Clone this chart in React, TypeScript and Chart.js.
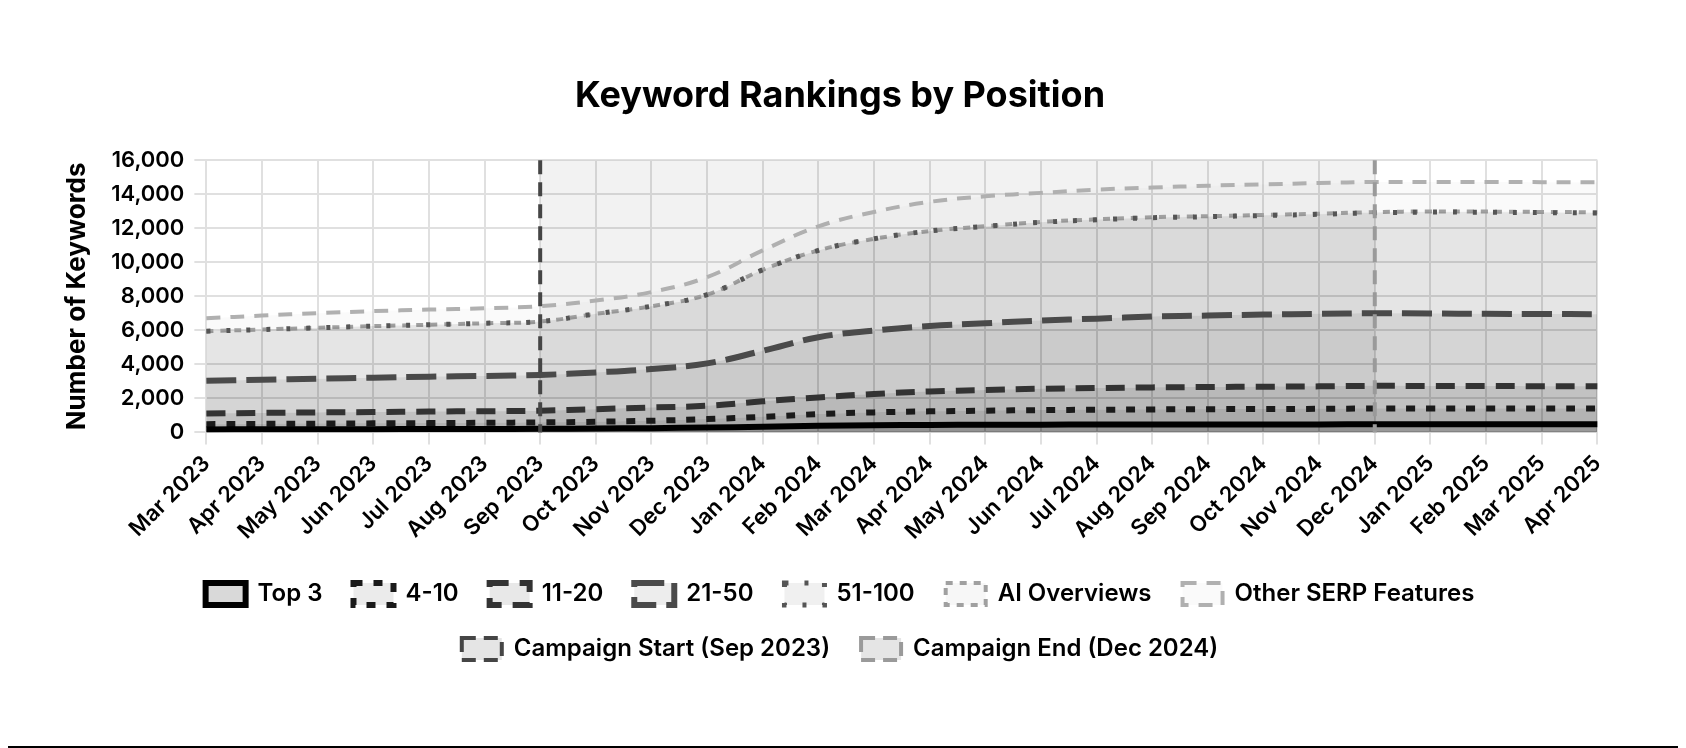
import React, { useRef, useEffect } from 'react';
import { Chart, registerables } from 'chart.js';

Chart.register(...registerables);

const months: string[] = [
    'Mar 2023', 'Apr 2023', 'May 2023', 'Jun 2023', 'Jul 2023', 'Aug 2023', 'Sep 2023', 'Oct 2023',
    'Nov 2023', 'Dec 2023', 'Jan 2024', 'Feb 2024', 'Mar 2024', 'Apr 2024', 'May 2024', 'Jun 2024',
    'Jul 2024', 'Aug 2024', 'Sep 2024', 'Oct 2024', 'Nov 2024', 'Dec 2024', 'Jan 2025', 'Feb 2025',
    'Mar 2025', 'Apr 2025',
];

const top3: number[] = [180, 185, 190, 195, 200, 205, 215, 235, 255, 290, 335, 390, 430, 445, 455, 460, 465, 470, 470, 475, 475, 480, 480, 480, 480, 480];
const pos4to10: number[] = [310, 320, 330, 340, 350, 365, 375, 395, 435, 495, 585, 690, 750, 795, 825, 855, 870, 885, 900, 900, 915, 930, 930, 930, 930, 930];
const pos11to20: number[] = [630, 645, 660, 665, 680, 680, 690, 740, 780, 785, 910, 980, 1080, 1170, 1210, 1255, 1275, 1295, 1300, 1315, 1320, 1330, 1320, 1320, 1310, 1310];
const pos21to50: number[] = [1920, 1950, 1980, 2020, 2050, 2070, 2100, 2160, 2260, 2490, 2970, 3540, 3730, 3850, 3930, 4010, 4080, 4160, 4200, 4240, 4260, 4270, 4260, 4240, 4240, 4230];
const pos51to100: number[] = [2910, 2950, 2990, 3030, 3050, 3100, 3140, 3440, 3690, 4040, 4760, 5100, 5390, 5580, 5690, 5770, 5810, 5810, 5810, 5820, 5850, 5900, 5960, 5970, 5960, 5950];
const aiOverviews: number[] = [0, 0, 0, 0, 0, 0, 0, 0, 0, 0, 0, 0, 0, 0, 10, 20, 25, 30, 30, 35, 35, 40, 40, 40, 40, 40];
const otherSerp: number[] = [760, 820, 860, 880, 890, 880, 900, 780, 830, 1030, 1140, 1410, 1580, 1710, 1760, 1710, 1745, 1740, 1790, 1795, 1805, 1770, 1730, 1740, 1750, 1760];

const campaignStart = 'Sep 2023';
const campaignEnd = 'Dec 2024';

// shaded campaign window plus the two vertical marker lines
const campaignPlugin = {
    id: 'campaign',
    beforeDatasetsDraw(chart: any) {
        const { ctx, chartArea, scales } = chart;
        const x0 = scales.x.getPixelForValue(months.indexOf(campaignStart));
        const x1 = scales.x.getPixelForValue(months.indexOf(campaignEnd));
        ctx.save();
        ctx.fillStyle = 'rgba(0,0,0,0.05)';
        ctx.fillRect(x0, chartArea.top, x1 - x0, chartArea.bottom - chartArea.top);
        ctx.restore();
    },
    afterDatasetsDraw(chart: any) {
        const { ctx, chartArea, scales } = chart;
        const marks = [
            { label: campaignStart, ds: chart.data.datasets[7] },
            { label: campaignEnd, ds: chart.data.datasets[8] },
        ];
        ctx.save();
        marks.forEach(m => {
            const x = scales.x.getPixelForValue(months.indexOf(m.label));
            ctx.strokeStyle = m.ds.borderColor;
            ctx.lineWidth = m.ds.borderWidth;
            ctx.setLineDash(m.ds.borderDash);
            ctx.beginPath();
            ctx.moveTo(x, chartArea.top);
            ctx.lineTo(x, chartArea.bottom);
            ctx.stroke();
        });
        ctx.restore();
    },
};

export default function App() {
    const canvasRef = useRef<HTMLCanvasElement>(null);

    useEffect(() => {
        if (!canvasRef.current) return;
        Chart.defaults.font.family = 'Inter';
        Chart.defaults.color = '#000';

        const series = (label: string, data: number[], color: string, fill: string, width: number, dash: number[]) => ({
            label,
            data,
            borderColor: color,
            backgroundColor: fill,
            borderWidth: width,
            borderDash: dash,
            fill: 'origin',
            pointRadius: 0,
            tension: 0.4,
        });

        const chart = new Chart(canvasRef.current, {
            type: 'line',
            data: {
                labels: months,
                datasets: [
                    series('Top 3', top3, '#000000', 'rgba(0,0,0,0.15)', 6, []),
                    series('4-10', pos4to10, '#1a1a1a', 'rgba(0,0,0,0.08)', 6, [9, 11]),
                    series('11-20', pos11to20, '#333333', 'rgba(0,0,0,0.09)', 6, [19, 11]),
                    series('21-50', pos21to50, '#4a4a4a', 'rgba(0,0,0,0.07)', 6, [30, 10]),
                    series('51-100', pos51to100, '#555555', 'rgba(0,0,0,0.06)', 5, [4, 16]),
                    series('AI Overviews', aiOverviews, '#a0a0a0', 'rgba(0,0,0,0.03)', 4, [7, 7]),
                    series('Other SERP Features', otherSerp, '#b0b0b0', 'rgba(0,0,0,0.02)', 4, [14, 10]),
                    {
                        label: 'Campaign Start (Sep 2023)', data: [], stack: 'campaign',
                        borderColor: '#454545', backgroundColor: 'rgba(0,0,0,0.1)', borderWidth: 4, borderDash: [14, 8],
                        pointRadius: 0,
                    },
                    {
                        label: 'Campaign End (Dec 2024)', data: [], stack: 'campaign',
                        borderColor: '#9a9a9a', backgroundColor: 'rgba(0,0,0,0.1)', borderWidth: 4, borderDash: [14, 8],
                        pointRadius: 0,
                    },
                ],
            },
            options: {
                animation: false,
                responsive: true,
                maintainAspectRatio: false,
                layout: { padding: { top: 57, left: 0, right: 0, bottom: 75 } },
                scales: {
                    x: {
                        grid: { color: '#e0e0e0', lineWidth: 2, tickLength: 12 },
                        border: { display: false },
                        ticks: {
                            maxRotation: 45, minRotation: 45, padding: 6, autoSkip: false,
                            font: { size: 22, weight: 600 },
                        },
                    },
                    y: {
                        stacked: true,
                        min: 0,
                        max: 16000,
                        grid: { color: '#e0e0e0', lineWidth: 2, tickLength: 12 },
                        border: { display: false },
                        ticks: { stepSize: 2000, padding: 10, font: { size: 22, weight: 600 } },
                        title: {
                            display: true,
                            text: 'Number of Keywords',
                            font: { size: 26, weight: 'bold' },
                            padding: { top: 4, bottom: 8 },
                        },
                    },
                },
                plugins: {
                    title: {
                        display: true,
                        text: 'Keyword Rankings by Position',
                        font: { size: 36, weight: 'bold' },
                        padding: { top: 10, bottom: 42 },
                    },
                    legend: {
                        position: 'bottom',
                        labels: {
                            boxWidth: 40,
                            boxHeight: 22,
                            padding: 31,
                            font: { size: 24, weight: 600 },
                        },
                    },
                    tooltip: { enabled: false },
                },
            },
            plugins: [campaignPlugin],
        });

        return () => {
            chart.destroy();
        };
    }, []);

    return (
        <div style={{ height: 738, borderBottom: '2px solid #000' }}>
            <div style={{ height: 738, marginLeft: 50, width: 1564 }}>
                <canvas ref={canvasRef}></canvas>
            </div>
        </div>
    );
}
